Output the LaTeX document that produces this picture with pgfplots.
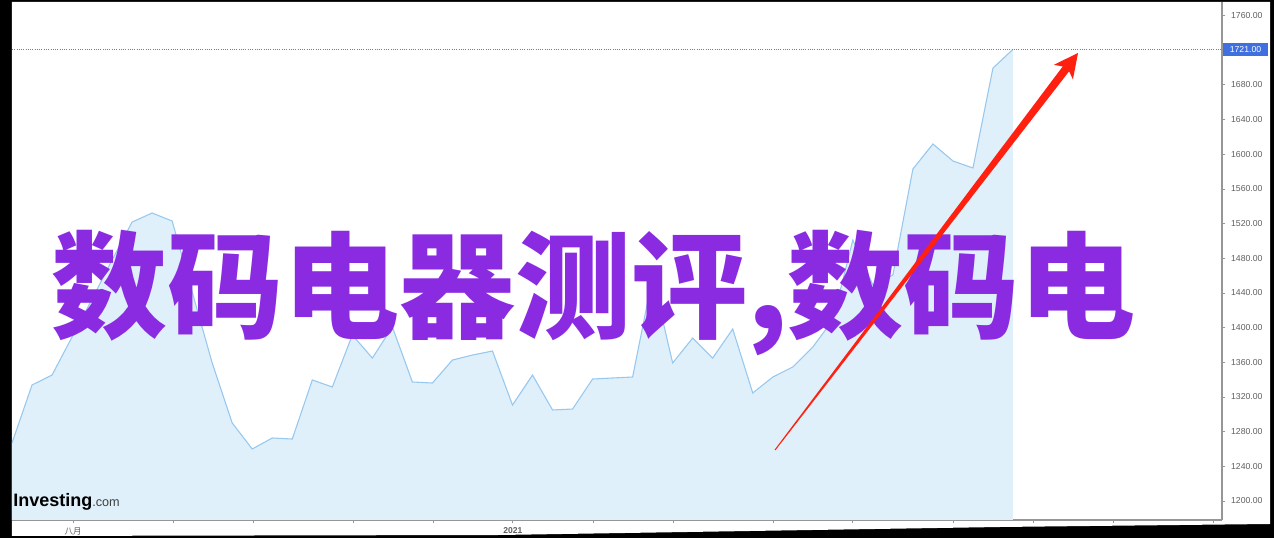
\documentclass[border=0pt]{standalone}
\usepackage{fontspec}
\setmainfont{Liberation Sans}
\newfontfamily\cjk{Noto Sans CJK SC}
\usepackage{pgfplots}
\usepackage{pgfplotstable}
\pgfplotsset{compat=1.18}
\definecolor{areafill}{RGB}{223,240,250}
\definecolor{arealine}{RGB}{150,200,240}
\definecolor{axgray}{RGB}{150,150,150}
\definecolor{labgray}{RGB}{95,95,95}
\definecolor{purp}{RGB}{138,43,226}
\definecolor{arrred}{RGB}{255,32,16}
\definecolor{pricebox}{RGB}{64,112,224}
\definecolor{dotline}{RGB}{80,125,240}

\pgfplotstableread{
i v
0 1266.9
1 1333.8
2 1345.3
3 1389.2
4 1433.0
5 1478.0
6 1521.8
7 1532.2
8 1523.0
9 1441.1
10 1359.2
11 1290.0
12 1260.0
13 1272.7
14 1271.5
15 1339.6
16 1331.5
17 1391.5
18 1364.9
19 1400.7
20 1337.3
21 1336.1
22 1362.6
23 1368.4
24 1373.0
25 1310.7
26 1345.3
27 1305.0
28 1306.1
29 1340.7
30 1341.9
31 1343.0
32 1458.4
33 1359.2
34 1388.0
35 1364.9
36 1398.4
37 1324.6
38 1343.0
39 1354.6
40 1377.6
41 1408.8
42 1501.0
43 1449.1
44 1460.7
45 1582.9
46 1611.8
47 1592.2
48 1584.1
49 1699.4
50 1721.0
}\pricedata

\begin{document}
\begin{tikzpicture}
\begin{scope}[shift={(-9pt,390pt)}, x=0.75pt, y=-0.75pt]
\useasboundingbox (0,0) rectangle (1274,538);
\fill[black] (0,0) rectangle (1274,538);
\fill[white] (12,2) -- (1270,2) -- (1270,524) -- (1000,527) -- (500,535) -- (12,536) -- cycle;
\end{scope}
\begin{axis}[
  at={(0,0)}, anchor=south west,
  scale only axis, width=907.5pt, height=388.5pt,
  xmin=0, xmax=60.44, ymin=1178.1, ymax=1775.6,
  axis y line*=right, axis x line*=bottom,
  axis line style={axgray, line width=0.8pt},
  tick style={axgray, line width=0.6pt},
  tick align=outside, major tick length=2.5pt,
  xtick={3.05,8.04,12.04,17.03,21.03,25.02,29.02,33.02,38.01,42,47,51,55,60},
  xticklabels={{\cjk 八月},,,,,\textbf{2021},,,,,,,,},
  xticklabel style={font=\fontsize{6.4}{7}\selectfont, text=labgray, inner sep=1pt, yshift=-1.8pt},
  ytick={1200,1240,...,1760},
  yticklabel style={font=\fontsize{6.5}{7}\selectfont, text=labgray, xshift=0.8pt, /pgf/number format/.cd, fixed, fixed zerofill, precision=2, 1000 sep={}, assume math mode=true},
]
\addplot[draw=none, fill=areafill] table[x=i, y=v] {\pricedata} \closedcycle;
\addplot[arealine, line width=0.8pt] table[x=i, y=v] {\pricedata};
\addplot[dotline, densely dotted, line width=0.7pt] coordinates {(0,1721) (60.44,1721)};
\end{axis}
\begin{scope}[shift={(-9pt,390pt)}, x=0.75pt, y=-0.75pt]
\fill[pricebox] (1223,43) rectangle (1268,56);
\node[text=white, inner sep=0, font=\fontsize{6.5}{7}\selectfont] at (1245.5,49.5) {1721.00};
\node[anchor=base west, inner sep=0, font=\bfseries\fontsize{13.5}{13.5}\selectfont] at (13,507) {Investing{\fontsize{9.5}{9.5}\selectfont\mdseries\color{black!75}.com}};
\node[anchor=base west, inner sep=0, text=purp, font=\cjk\bfseries\fontsize{87}{87}\selectfont] at (51,330) {数码电器测评,数码电};
\fill[arrred] (775.4,450.3) -- (1069.1,71.3) -- (1072.9,79.4) -- (1078,53) -- (1053.9,64.8) -- (1062.7,66.5) -- (774.6,449.7) -- cycle;
\end{scope}
\end{tikzpicture}
\end{document}
